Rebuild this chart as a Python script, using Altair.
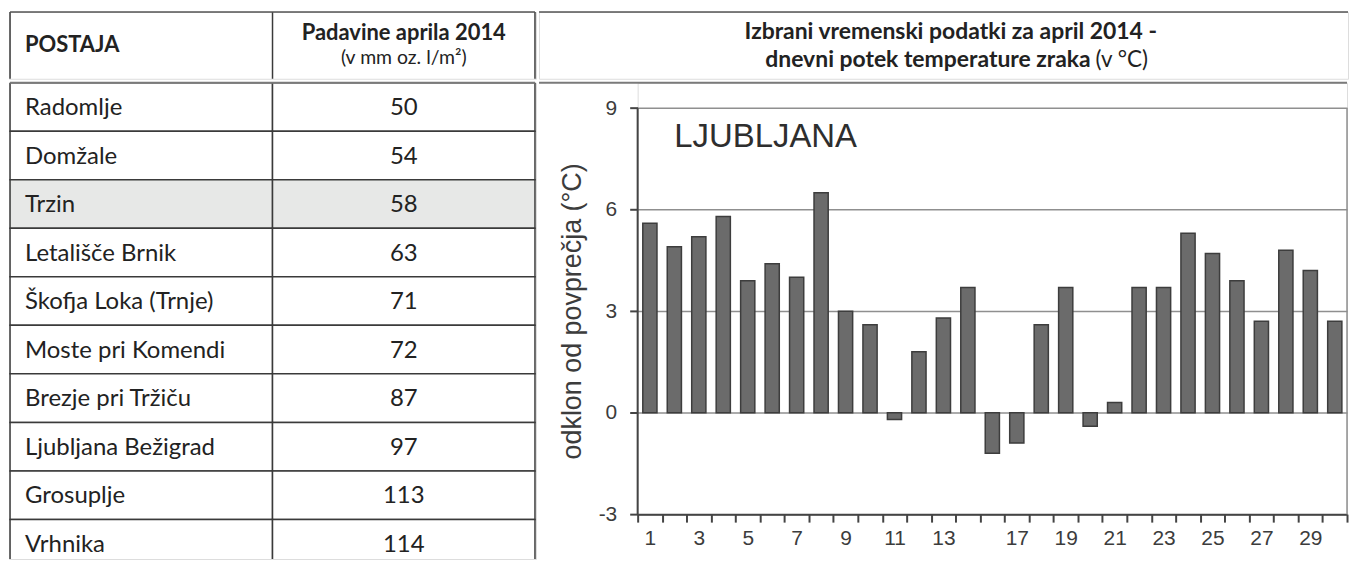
import altair as alt
import pandas as pd

# ---------------- data ----------------
stations = ["Radomlje", "Domžale", "Trzin", "Letališče Brnik", "Škofja Loka (Trnje)",
            "Moste pri Komendi", "Brezje pri Tržiču", "Ljubljana Bežigrad", "Grosuplje", "Vrhnika"]
precip = [50, 54, 58, 63, 71, 72, 87, 97, 113, 114]
highlight = "Trzin"

days = list(range(1, 31))
temp_dev = [5.6, 4.9, 5.2, 5.8, 3.9, 4.4, 4.0, 6.5, 3.0, 2.6,
            -0.2, 1.8, 2.8, 3.7, 0.0, -1.2, -0.9, 2.6, 3.7, -0.4,
            0.3, 3.7, 3.7, 5.3, 4.7, 3.9, 2.7, 4.8, 4.2, 2.7]
y_ticks = [-3, 0, 3, 6, 9]

head_station = "POSTAJA"
head_precip = "Padavine aprila 2014"
head_precip_unit = "(v mm oz. l/m²)"
title_line1 = "Izbrani vremenski podatki za april 2014 -"
title_line2_bold = "dnevni potek temperature zraka"
title_line2_unit = "(v °C)"
y_title = "odklon od povprečja (°C)"
place = "LJUBLJANA"

# ---------------- layout / style ----------------
TABLE_W = 529
HEAD_H = 67
ROW_H = 48.7
BODY_H = 478
CHART_HEAD_W = 812
PLOT_W = 712
PLOT_H = 433
PLOT_OFF = 99          # distance from table edge to plot area
Y_TOP = 9.75

TFONT = "Lato"
CFONT = "Liberation Sans"
LINE = "#3a3a3a"
HLINE = "#7a7a7a"
TXT = "#222222"
CTXT = "#3c3c3c"

one = pd.DataFrame({"k": [0]})
unit_x = alt.Scale(domain=[0, 1], nice=False, zero=False)
unit_y = alt.Scale(domain=[0, 1], nice=False, zero=False, reverse=True)
col_scale = alt.Scale(domain=[-0.004, 2.004], nice=False, zero=False)

# ---------------- table header ----------------
th_vert = alt.Chart(pd.DataFrame({"col": [0, 1, 2]})).mark_rule(stroke=LINE, strokeWidth=1.5).encode(
    x=alt.X("col:Q", scale=col_scale, axis=None), y=alt.value(0), y2=alt.value("height"))
th_top = alt.Chart(one).mark_rule(stroke="#555555", strokeWidth=1.5).encode(
    x=alt.datum(0), x2=alt.datum(2), y=alt.value(0))
th_station = alt.Chart(one).mark_text(text=head_station, align="left", baseline="middle", dx=15,
                                      font=TFONT, fontSize=22, fontWeight="bold", color=TXT).encode(
    x=alt.datum(0), y=alt.YDatum(0.5, scale=unit_y, axis=None))
th_precip = alt.Chart(one).mark_text(text=head_precip, align="center", baseline="alphabetic",
                                     font=TFONT, fontSize=22, fontWeight="bold", color=TXT).encode(
    x=alt.datum(1.5), y=alt.YDatum(0.42, scale=unit_y, axis=None))
th_unit = alt.Chart(one).mark_text(text=head_precip_unit, align="center", baseline="alphabetic",
                                   font=TFONT, fontSize=19.5, color=TXT).encode(
    x=alt.datum(1.5), y=alt.YDatum(0.785, scale=unit_y, axis=None))
table_head = alt.layer(th_vert, th_top, th_station, th_precip, th_unit).properties(
    width=TABLE_W, height=HEAD_H)

# ---------------- chart header ----------------
ch_top = alt.Chart(one).mark_rule(stroke="#555555", strokeWidth=1.5).encode(
    x=alt.value(0), x2=alt.value("width"), y=alt.value(0))
ch_t1 = alt.Chart(one).mark_text(text=title_line1, align="center", baseline="alphabetic",
                                 font=TFONT, fontSize=23, fontWeight="bold", color=TXT).encode(
    x=alt.XDatum(0.509, scale=unit_x, axis=None), y=alt.YDatum(0.405, scale=unit_y, axis=None))
ch_t2 = alt.Chart(one).mark_text(text=title_line2_bold, align="right", baseline="alphabetic",
                                 font=TFONT, fontSize=23, fontWeight="bold", color=TXT).encode(
    x=alt.XDatum(0.682, scale=unit_x, axis=None), y=alt.YDatum(0.82, scale=unit_y, axis=None))
ch_t3 = alt.Chart(one).mark_text(text=title_line2_unit, align="left", baseline="alphabetic",
                                 font=TFONT, fontSize=22.5, color=TXT).encode(
    x=alt.XDatum(0.688, scale=unit_x, axis=None), y=alt.YDatum(0.82, scale=unit_y, axis=None))
chart_head = alt.layer(ch_top, ch_t1, ch_t2, ch_t3).properties(width=CHART_HEAD_W, height=HEAD_H)

# ---------------- table body ----------------
cells = []
for i, (s, p) in enumerate(zip(stations, precip)):
    for c in (0, 1):
        cells.append({"row": i, "row2": i + 1, "col": c, "col2": c + 1,
                      "hl": "yes" if s == highlight else "no"})
cells_df = pd.DataFrame(cells)
tab_df = pd.DataFrame({"station": stations, "precip": precip,
                       "mid": [i + 0.5 for i in range(len(stations))]})
row_scale = alt.Scale(domain=[0, BODY_H / ROW_H], nice=False, zero=False, reverse=True)

tb_rect = alt.Chart(cells_df).mark_rect(stroke=LINE, strokeWidth=1.5, clip=True).encode(
    x=alt.X("col:Q", scale=col_scale, axis=None), x2="col2:Q",
    y=alt.Y("row:Q", scale=row_scale, axis=None), y2="row2:Q",
    fill=alt.Fill("hl:N", scale=alt.Scale(domain=["no", "yes"], range=["#ffffff", "#e7e8e7"]), legend=None))
tb_sep = alt.Chart(one).mark_rule(stroke=HLINE, strokeWidth=2).encode(
    x=alt.datum(0), x2=alt.datum(2), y=alt.value(0))
tb_names = alt.Chart(tab_df).mark_text(align="left", baseline="middle", dx=15, dy=1,
                                       font=TFONT, fontSize=24, color=TXT).encode(
    x=alt.datum(0), y="mid:Q", text="station:N")
tb_vals = alt.Chart(tab_df).mark_text(align="center", baseline="middle", dy=1,
                                      font=TFONT, fontSize=24, color=TXT).encode(
    x=alt.datum(1.5), y="mid:Q", text="precip:Q")
table_body = alt.layer(tb_rect, tb_sep, tb_names, tb_vals).properties(width=TABLE_W, height=BODY_H)

# ---------------- bar chart ----------------
bar_df = pd.DataFrame({"day": days, "dev": temp_dev})
x_scale = alt.Scale(paddingInner=0, paddingOuter=0)
y_scale = alt.Scale(domain=[-3, Y_TOP], nice=False, zero=False)

bars = alt.Chart(bar_df).transform_filter("datum.dev != 0").mark_bar(
    fill="#6b6b6b", stroke="#3d3d3d", strokeWidth=1.5, width=alt.RelativeBandSize(0.58)).encode(
    x=alt.X("day:O", scale=x_scale,
            axis=alt.Axis(title=None, labelAngle=0, tickBand="extent",
                          labelExpr="datum.value % 2 == 1 ? datum.label : ''",
                          domainColor="#444", domainWidth=2, tickColor="#444", tickWidth=2, tickSize=8,
                          labelFont=CFONT, labelFontSize=21, labelColor=CTXT, labelPadding=5)),
    y=alt.Y("dev:Q", scale=y_scale,
            axis=alt.Axis(values=y_ticks, title=y_title, domain=False, grid=True,
                          gridColor="#8f8f8f", gridWidth=1.5,
                          tickColor="#444", tickWidth=2, tickSize=8,
                          labelExpr="'' + datum.value",
                          labelFont=CFONT, labelFontSize=21, labelColor=CTXT, labelPadding=13,
                          titleFont=CFONT, titleFontSize=27, titleFontWeight="normal",
                          titleColor=CTXT, titlePadding=12, titleY=229)),
    y2=alt.datum(0))

sep_line = alt.Chart(one).mark_rule(stroke=HLINE, strokeWidth=2).encode(
    x=alt.value(-PLOT_OFF), x2=alt.value("width"), y=alt.value(0))
left_line = alt.Chart(one).mark_rule(stroke="#444", strokeWidth=2).encode(
    x=alt.value(0), y=alt.datum(9), y2=alt.datum(-3))
right_line = alt.Chart(one).mark_rule(stroke="#8f8f8f", strokeWidth=1.5).encode(
    x=alt.value("width"), y=alt.datum(9), y2=alt.datum(-3))
place_txt = alt.Chart(one).mark_text(text=place, align="left", baseline="middle",
                                     font=CFONT, fontSize=33, color="#2e2e2e").encode(
    x=alt.XDatum(2, type="ordinal"), y=alt.datum(8.15))

bar_chart = alt.layer(bars, sep_line, left_line, right_line, place_txt).properties(
    width=PLOT_W, height=PLOT_H)

# ---------------- assemble ----------------
header_row = alt.hconcat(table_head, chart_head, spacing=0)
body_row = alt.hconcat(table_body, bar_chart, spacing=0)
chart = alt.vconcat(header_row, body_row, spacing=0).properties(
    padding={"left": 0, "top": 1, "right": 0, "bottom": 0}
).configure_view(stroke="transparent").configure(background="white")

chart.save("out.html", embed_options={"renderer": "svg", "actions": False})
